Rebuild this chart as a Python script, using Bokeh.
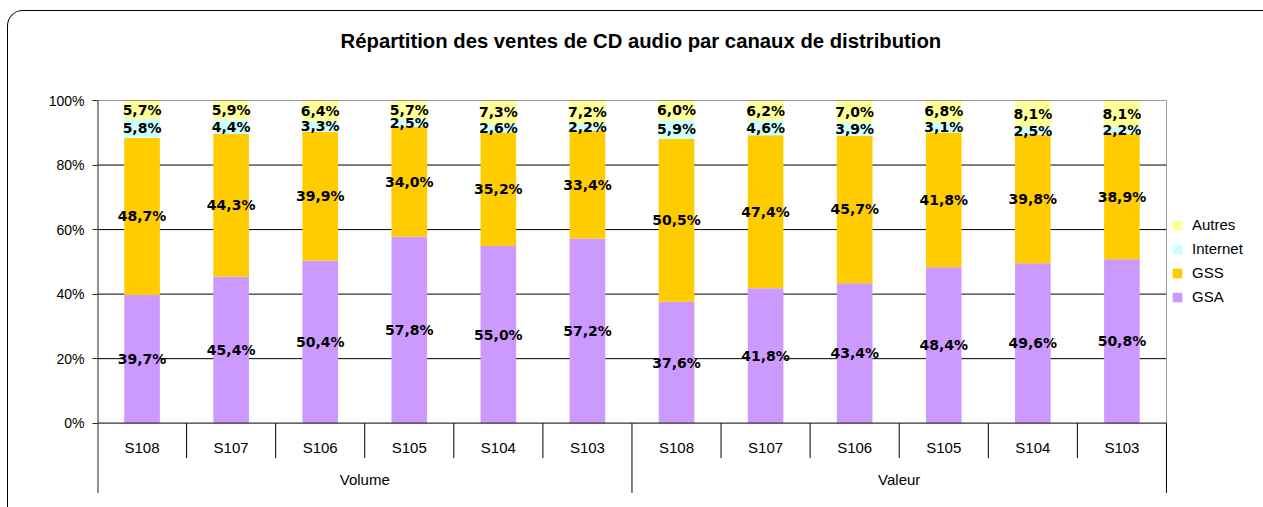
from bokeh.plotting import figure
from bokeh.models import (ColumnDataSource, Range1d, FixedTicker,
                          Legend, LegendItem)
from bokeh.core.properties import value
from bokeh.embed import file_html
from bokeh.resources import INLINE

# ---------------- data ----------------
groups = ["Volume", "Valeur"]
periods = ["S108", "S107", "S106", "S105", "S104", "S103"]
series = ["GSA", "GSS", "Internet", "Autres"]
gsa = [39.7, 45.4, 50.4, 57.8, 55.0, 57.2, 37.6, 41.8, 43.4, 48.4, 49.6, 50.8]
gss = [48.7, 44.3, 39.9, 34.0, 35.2, 33.4, 50.5, 47.4, 45.7, 41.8, 39.8, 38.9]
internet = [5.8, 4.4, 3.3, 2.5, 2.6, 2.2, 5.9, 4.6, 3.9, 3.1, 2.5, 2.2]
autres = [5.7, 5.9, 6.4, 5.7, 7.3, 7.2, 6.0, 6.2, 7.0, 6.8, 8.1, 8.1]
colors = ["#CC99FF", "#FFCC00", "#CCFFFF", "#FFFF99"]
y_ticks = [0, 20, 40, 60, 80, 100]
title_text = "Répartition des ventes de CD audio par canaux de distribution"

# ---------------- derived ----------------
n_per = len(periods)
n = len(groups) * n_per
xs = [i + 0.5 for i in range(n)]
sub_labels = [s for g in groups for s in periods]
raw = {"GSA": gsa, "GSS": gss, "Internet": internet, "Autres": autres}
totals = [sum(raw[k][i] for k in series) for i in range(n)]
data = {"x": xs}
cum = [0.0] * n
for k in series:
    norm = [raw[k][i] / totals[i] * 100 for i in range(n)]
    data[k] = norm
    data[k + "_mid"] = [cum[i] + norm[i] / 2 for i in range(n)]
    data[k + "_lbl"] = [f"{v:.1f}".replace(".", ",") + "%" for v in raw[k]]
    cum = [cum[i] + norm[i] for i in range(n)]
src = ColumnDataSource(data)

# layout constants (pixels -> data units)
PX_X = 89.08          # px per category
PX_Y = 3.227          # px per percent
FRAME_W, FRAME_H = 1166, 496
Y_START = -(507 - 422.7) / PX_Y
Y_END = Y_START + FRAME_H / PX_Y
X_END = FRAME_W / PX_X
Y_BOTTOM = -21.6
SUB_LBL_Y = -7.4
GRP_LBL_Y = -17.6
SHORT_SEP = -10.8
TITLE_Y = 100 + (100 - 40) / PX_Y

p = figure(
    x_range=Range1d(0, X_END), y_range=Range1d(Y_START, Y_END),
    frame_width=FRAME_W, frame_height=FRAME_H,
    min_border_left=89, min_border_right=0, min_border_top=0,
    min_border_bottom=0,
    output_backend="svg", toolbar_location=None, x_axis_location=None,
)
p.styles = {"margin-left": "7px", "margin-top": "10px",
            "border-left": "1px solid #000000", "border-top": "1px solid #000000",
            "border-top-left-radius": "16px", "overflow": "hidden"}
p.outline_line_color = None
p.background_fill_color = "white"
p.border_fill_color = "white"
p.xgrid.visible = False
p.ygrid.visible = False

# y axis (ticks + labels from the axis, line drawn as a segment)
yax = p.yaxis[0]
yax.ticker = FixedTicker(ticks=y_ticks)
yax.major_label_overrides = {t: f"{t}%" for t in y_ticks}
yax.minor_tick_line_color = None
yax.major_tick_in = 0
yax.major_tick_out = 5
yax.major_label_standoff = 8
yax.axis_line_color = None
yax.major_tick_line_color = "#222222"
yax.major_label_text_font = "Liberation Sans"
yax.major_label_text_font_size = "14px"
yax.major_label_text_color = "#000000"

# grid lines
grid_y = [t for t in y_ticks if 0 < t < 100]
p.segment(x0=[0] * len(grid_y), y0=grid_y, x1=[n] * len(grid_y), y1=grid_y,
          line_color="#000000", line_width=1)

# bars
rends = p.vbar_stack(series, x="x", width=0.4, color=colors, line_color=None,
                     source=src)

# plot-area border (top + right, gray), axis lines
p.segment(x0=[0, n], y0=[100, 0], x1=[n, n], y1=[100, 100],
          line_color="#999999", line_width=1)
p.segment(x0=[0], y0=[0], x1=[n], y1=[0], line_color="#333333", line_width=1.2)
p.segment(x0=[0], y0=[Y_BOTTOM], x1=[0], y1=[100], line_color="#222222",
          line_width=2)

# category separators
short_x = [i for i in range(1, n) if i % n_per != 0]
p.segment(x0=short_x, y0=[0] * len(short_x), x1=short_x,
          y1=[SHORT_SEP] * len(short_x), line_color="#000000", line_width=1)
long_x = [i for i in range(1, n + 1) if i % n_per == 0]
p.segment(x0=long_x, y0=[0] * len(long_x), x1=long_x,
          y1=[Y_BOTTOM] * len(long_x), line_color="#000000", line_width=1)

# category labels
p.text(x=xs, y=[SUB_LBL_Y] * n, text=sub_labels,
       text_align="center", text_baseline="middle",
       text_font=value("Liberation Sans"), text_font_size="15px",
       text_color="#000000")
p.text(x=[j * n_per + n_per / 2 for j in range(len(groups))],
       y=[GRP_LBL_Y] * len(groups), text=groups,
       text_align="center", text_baseline="middle",
       text_font=value("Liberation Sans"), text_font_size="15px",
       text_color="#000000")

# value labels
for k in series:
    p.text(x="x", y=k + "_mid", text=k + "_lbl", source=src,
           text_align="center", text_baseline="middle",
           text_font=value("DejaVu Sans"), text_font_style="bold",
           text_font_size="14px", text_color="#000000")

# title
p.text(x=[n / 2 + 0.1], y=[TITLE_Y], text=[title_text],
       text_align="center", text_baseline="middle",
       text_font=value("Liberation Sans"), text_font_style="bold",
       text_font_size="20.3px", text_color="#000000")

# legend (reverse order), right of the plot area
items = [LegendItem(label=k, renderers=[r]) for k, r in zip(series, rends)][::-1]
legend = Legend(items=items, location=(1074, 202))
legend.border_line_color = None
legend.background_fill_alpha = 0
legend.glyph_width = 12
legend.glyph_height = 12
legend.label_standoff = 9
legend.spacing = 7
legend.padding = 0
legend.margin = 0
legend.label_text_font = "Liberation Sans"
legend.label_text_font_size = "15px"
legend.label_text_color = "#000000"
p.add_layout(legend)

open("out.html", "w").write(file_html(p, INLINE))
